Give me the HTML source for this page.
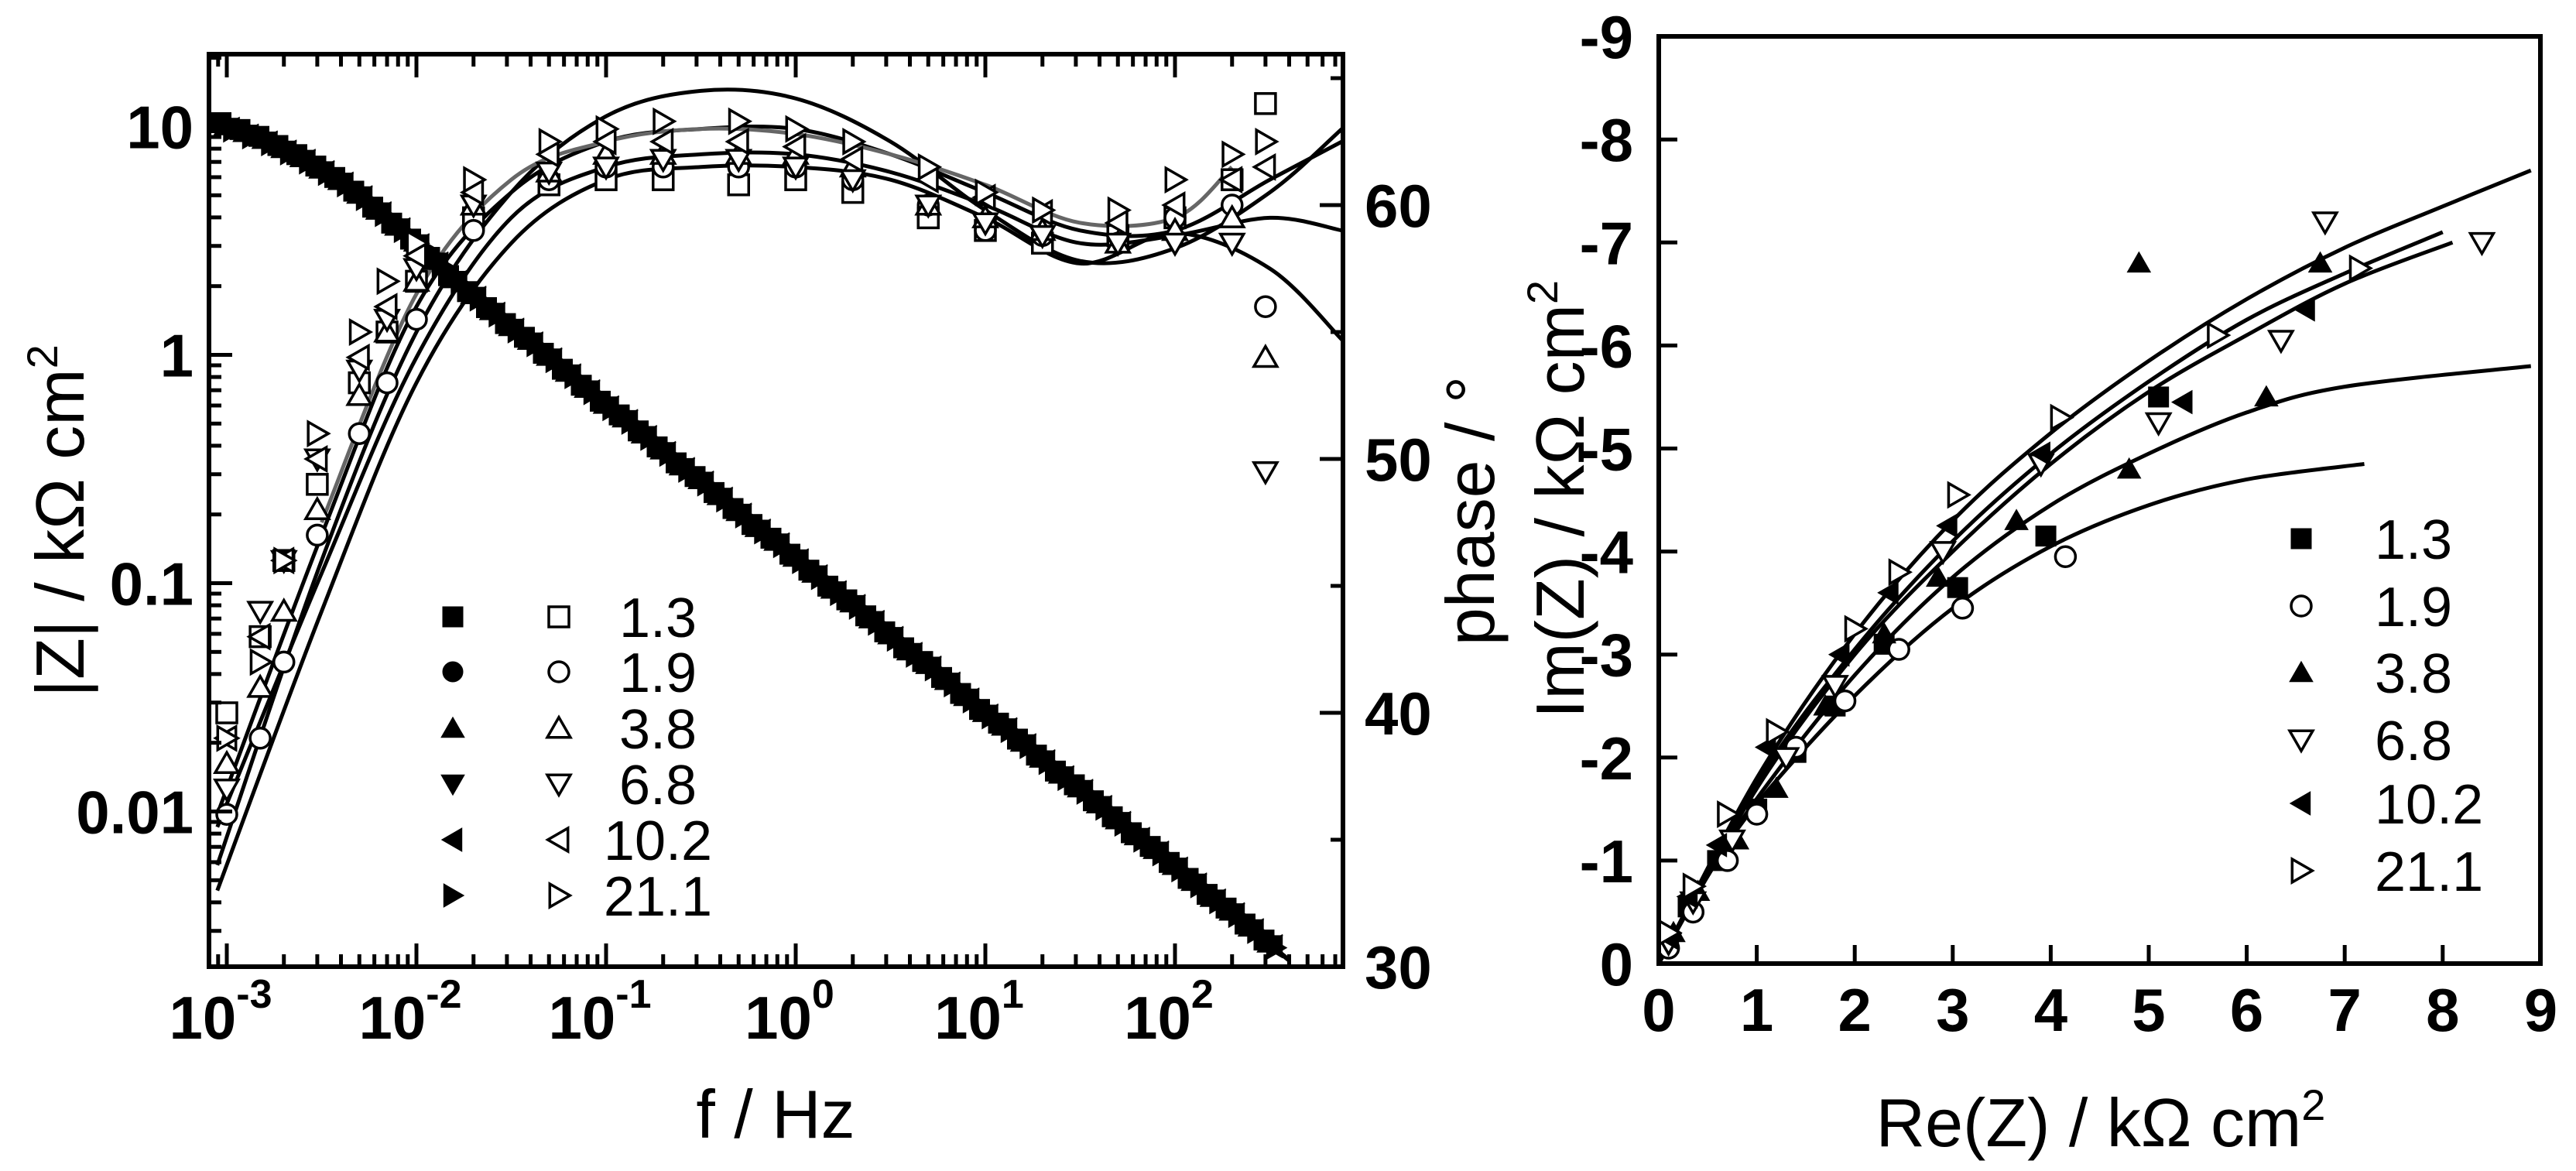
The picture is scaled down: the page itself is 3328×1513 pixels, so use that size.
<!DOCTYPE html>
<html><head><meta charset="utf-8">
<style>
html,body{margin:0;padding:0;background:#fff;}
svg{display:block;}
text{font-family:"Liberation Sans",Arial,sans-serif;fill:#000;}
.tk{font-weight:bold;font-size:78px;}
.ti{font-size:88px;}
.lg{font-size:72px;}
</style></head>
<body>
<svg id="chart" width="3328" height="1513" viewBox="0 0 3328 1513" xmlns="http://www.w3.org/2000/svg">
<g id="left"></g>
<g id="right"></g>
</svg>
<script>
// ---------- data ----------
const seriesLabels = ["1.3","1.9","3.8","6.8","10.2","21.1"];
const seriesShapes = ["square","circle","up","down","left","right"];
// Bode |Z| (log10 kOhm cm2) at log10 f from -3 to 2.5 step 0.1
const zLogF = [-3,-2.9,-2.8,-2.7,-2.6,-2.5,-2.4,-2.3,-2.2,-2.1,-2,-1.9,-1.8,-1.7,-1.6,-1.5,-1.4,-1.3,-1.2,-1.1,-1,-0.9,-0.8,-0.7,-0.6,-0.5,-0.4,-0.3,-0.2,-0.1,0,0.1,0.2,0.3,0.4,0.5,0.6,0.7,0.8,0.9,1,1.1,1.2,1.3,1.4,1.5,1.6,1.7,1.8,1.9,2,2.1,2.2,2.3,2.4,2.5];
const zLogMag = [1.0,0.97,0.94,0.90,0.86,0.81,0.76,0.70,0.63,0.56,0.49,0.41,0.33,0.26,0.19,0.12,0.06,-0.01,-0.08,-0.15,-0.22,-0.28,-0.35,-0.42,-0.49,-0.55,-0.62,-0.69,-0.76,-0.82,-0.89,-0.96,-1.03,-1.09,-1.16,-1.23,-1.30,-1.36,-1.43,-1.50,-1.57,-1.63,-1.70,-1.77,-1.84,-1.90,-1.97,-2.04,-2.11,-2.17,-2.24,-2.31,-2.38,-2.44,-2.51,-2.58];
const zFitLogF = [-3.1,-3,-2.8,-2.6,-2.4,-2.2,-2,-1.8,2.6];
const zFitLogMag = [1.06,1.0,0.94,0.86,0.76,0.63,0.49,0.33,-2.65];
// Bode phase (deg)
const phFreq = [0.001,0.0015,0.002,0.003,0.005,0.007,0.01,0.02,0.05,0.1,0.2,0.5,1,2,5,10,20,50,100,200,300];
const ph13 = [40,43,46,49,53,55,57,59.5,60.8,61,61,60.8,61,60.5,59.5,59,58.5,58.8,59.5,61,64];
const ph19 = [36,39,42,47,51,53,55.5,59,61,61.5,61.5,61.5,61.5,61,60,59,58.8,58.5,59.5,60,56];
const ph38 = [38,41,44,48,52.5,55,57,60,61.3,62,62,62,62,61.5,60,59.5,59,58.5,59,59.5,54];
const ph68 = [37,44,46,50,53.5,55.5,57.5,60,61.3,61.5,61.8,61.8,61.5,61,60,59.3,58.8,58.5,58.5,58.5,49.5];
const ph102 = [39,43,46,50,54,56,58,60.5,62,62.5,62.5,62.5,62.3,61.8,61,60.3,59.7,59.3,60,61,61.5];
const ph211 = [39,42,46,51,55,57,58.5,61,62.5,63,63.3,63.3,63,62.5,61.5,60.5,59.8,59.8,61,62,62.5];
const phFitLogF = [-3.05,-2.5,-2,-1.5,-1,-0.5,0,0.5,1,1.5,2,2.5,2.88];
const phFit1 = [34,46,55,60.5,63.5,64.5,64.2,62.5,59.8,57.8,58.3,60.5,63.0];
const phFit2 = [36,47,56,60.5,62.5,63,63,62,60.5,59,59,61,62.5];
const phFit4 = [35.5,45.5,54,59.5,61.5,62,62,61.3,60,58.5,58.8,59.5,59];
const phFit5 = [33,44,53,58.5,61,61.5,61.5,61,59.5,57.7,58.9,57.5,54.7];
const phFitGrayLogF = [-2.5,-2,-1.5,-1,-0.5,0,0.5,1,1.5,2,2.3];
const phFitGray = [47.5,56.5,61,62.5,63,62.8,62,60.8,59.3,59.5,61.5];
// Nyquist (Re, -Im) kOhm cm2
const nyRe13 = [0.1,0.3,0.6,1.0,1.4,1.8,2.3,3.05,3.95,5.1];
const nyIm13 = [0.2,0.55,1.0,1.5,2.05,2.5,3.1,3.65,4.15,5.5];
const nyRe19 = [0.1,0.35,0.7,1.0,1.4,1.9,2.45,3.1,4.15];
const nyIm19 = [0.15,0.5,1.0,1.45,2.1,2.55,3.05,3.45,3.95];
const nyRe38 = [0.15,0.4,0.8,1.2,1.7,2.3,2.85,3.65,4.8,6.2,4.9,6.75];
const nyIm38 = [0.3,0.7,1.2,1.7,2.5,3.2,3.75,4.3,4.8,5.5,6.8,6.8];
const nyRe68 = [0.1,0.35,0.75,1.3,1.8,2.9,3.9,5.1,6.35,6.8,8.4];
const nyIm68 = [0.2,0.6,1.2,2.0,2.7,4.0,4.85,5.25,6.05,7.2,7.0];
const nyRe102 = [0.1,0.3,0.6,1.1,1.85,2.35,2.95,3.9,5.35,6.6];
const nyIm102 = [0.25,0.65,1.15,2.1,3.0,3.6,4.25,4.95,5.45,6.35];
const nyRe211 = [0.1,0.35,0.7,1.2,2.0,2.45,3.05,4.1,5.7,7.15];
const nyIm211 = [0.3,0.75,1.45,2.25,3.25,3.8,4.55,5.3,6.1,6.75];
const fitRe1 = [0,0.5,1,2,3,4,5,6,7.2];
const fitIm1 = [0,0.85,1.55,2.6,3.45,4.05,4.45,4.7,4.85];
const fitRe2 = [0,0.5,1,2,3,4,5,6,7,8.9];
const fitIm2 = [0,0.85,1.6,2.8,3.75,4.45,4.95,5.35,5.6,5.8];
const fitRe3 = [0,1,2,3,4,5,6,7,8.1];
const fitIm3 = [0,1.7,3.0,4.0,4.85,5.55,6.1,6.6,7.0];
const fitRe4 = [0,1,2,3,4,5,6,7,8];
const fitIm4 = [0,1.75,3.05,4.1,4.95,5.65,6.25,6.7,7.1];
const fitRe5 = [0,1,2,3,4,5,6,7,8,8.9];
const fitIm5 = [0,1.8,3.2,4.3,5.15,5.85,6.45,6.95,7.35,7.7];
const bodeXTicks = [-3,-2,-1,0,1,2];
const bodeYTicks = [1,0,-1,-2];
const bodeYLabels = ["10","1","0.1","0.01"];
const phaseTicks = [30,40,50,60];
const nyTicks = [0,1,2,3,4,5,6,7,8,9];

// ---------- geometry ----------
const NS="http://www.w3.org/2000/svg";
const L={x0:270,x1:1735,y0:70,y1:1249};
const R={x0:2143,x1:3282,y0:47,y1:1245};
const fx=lf=>293+(lf+3)*245;
const fyZ=lm=>458.5-lm*295;
const fyP=p=>1249-(p-30)*32.8;
const rx=v=>R.x0+v*126.6;
const ry=v=>R.y1-v*133.1;
function el(tag,attrs,parent){const e=document.createElementNS(NS,tag);for(const k in attrs)e.setAttribute(k,attrs[k]);parent.appendChild(e);return e;}
const gL=document.getElementById('left'), gR=document.getElementById('right');
const defs=el('defs',{},document.getElementById('chart'));
const cpL=el('clipPath',{id:'clipL'},defs); el('rect',{x:L.x0,y:L.y0,width:L.x1-L.x0,height:L.y1-L.y0},cpL);
const cpR=el('clipPath',{id:'clipR'},defs); el('rect',{x:R.x0,y:R.y0,width:R.x1-R.x0,height:R.y1-R.y0},cpR);

function marker(parent,shape,cx,cy,filled,s){
  s=s||13; let e;
  const st=filled?{fill:'#000',stroke:'#000','stroke-width':1}:{fill:'#fff',stroke:'#000','stroke-width':3.5};
  if(shape==='square'){e=el('rect',{x:cx-s,y:cy-s,width:2*s,height:2*s},parent);}
  else if(shape==='circle'){e=el('circle',{cx:cx,cy:cy,r:s},parent);}
  else{let p;
    if(shape==='up')p=[[cx,cy-s*1.1],[cx+s*1.15,cy+s*0.9],[cx-s*1.15,cy+s*0.9]];
    if(shape==='down')p=[[cx,cy+s*1.1],[cx+s*1.15,cy-s*0.9],[cx-s*1.15,cy-s*0.9]];
    if(shape==='left')p=[[cx-s*1.1,cy],[cx+s*0.9,cy-s*1.15],[cx+s*0.9,cy+s*1.15]];
    if(shape==='right')p=[[cx+s*1.1,cy],[cx-s*0.9,cy-s*1.15],[cx-s*0.9,cy+s*1.15]];
    e=el('polygon',{points:p.map(q=>q.join(',')).join(' ')},parent);}
  for(const k in st)e.setAttribute(k,st[k]);
  return e;
}
function smoothPath(pts){
  let d='M'+pts[0][0]+','+pts[0][1];
  for(let i=0;i<pts.length-1;i++){
    const p0=pts[Math.max(i-1,0)],p1=pts[i],p2=pts[i+1],p3=pts[Math.min(i+2,pts.length-1)];
    const c1=[p1[0]+(p2[0]-p0[0])/6,p1[1]+(p2[1]-p0[1])/6];
    const c2=[p2[0]-(p3[0]-p1[0])/6,p2[1]-(p3[1]-p1[1])/6];
    d+=' C'+c1.join(',')+' '+c2.join(',')+' '+p2.join(',');
  }
  return d;
}
function txt(parent,x,y,s,cls,anchor,name){const t=el('text',{x:x,y:y,'class':cls,'text-anchor':anchor||'middle'},parent);t.textContent=s;
  
  return t;}

// ---------- left (Bode) ----------
const dataL=el('g',{'clip-path':'url(#clipL)'},gL);


[[phFitLogF,phFit1,'#000'],[phFitLogF,phFit2,'#000'],[phFitLogF,phFit4,'#000'],[phFitLogF,phFit5,'#000'],[phFitGrayLogF,phFitGray,'#666']].forEach((f,i)=>{
  const p=el('path',{d:smoothPath(f[0].map((lf,j)=>[fx(lf),fyP(f[1][j])])),fill:'none',stroke:f[2],'stroke-width':5},dataL);
  
  
});
const zf=el('path',{d:smoothPath(zFitLogF.map((lf,j)=>[fx(lf),fyZ(zFitLogMag[j])])),fill:'none',stroke:'#000','stroke-width':6},dataL);


seriesShapes.forEach((sh,si)=>{
  zLogF.forEach((lf,j)=>{
    const m=marker(dataL,sh,fx(lf)+(si-2.5)*3,fyZ(zLogMag[j])+(si-2.5)*2,true,13);
    
    
  });
});
[ph13,ph19,ph38,ph68,ph102,ph211].forEach((arr,si)=>{
  arr.forEach((p,j)=>{
    const m=marker(dataL,seriesShapes[si],fx(Math.log10(phFreq[j])),fyP(p),false,13);
    
    
  });
});
const fL=el('rect',{x:L.x0,y:L.y0,width:L.x1-L.x0,height:L.y1-L.y0,fill:'none',stroke:'#000','stroke-width':6},gL);


for(let d=-4;d<=2;d++){for(let k=1;k<10;k++){const x=fx(d+Math.log10(k));if(x<L.x0+3||x>L.x1-3)continue;
  const len=k===1?30:16; el('line',{x1:x,y1:L.y1,x2:x,y2:L.y1-len,stroke:'#000','stroke-width':5},gL);
  el('line',{x1:x,y1:L.y0,x2:x,y2:L.y0+len,stroke:'#000','stroke-width':5},gL);}}
bodeXTicks.forEach(d=>{const t=txt(gL,fx(d)-8,1342,'10','tk','middle','x-tick-label');
  const s=el('tspan',{dy:-40,'font-size':'52'},t); s.textContent=String(d);});
for(let d=-3;d<=1;d++){for(let k=1;k<10;k++){const y=fyZ(d+Math.log10(k));if(y<L.y0+3||y>L.y1-3)continue;
  const len=k===1?30:16; el('line',{x1:L.x0,y1:y,x2:L.x0+len,y2:y,stroke:'#000','stroke-width':5},gL);}}
bodeYTicks.forEach((d,i)=>txt(gL,250,fyZ(d)+28,bodeYLabels[i],'tk','end','y-tick-label'));
for(let p=30;p<=65;p+=5){const y=fyP(p);if(y<L.y0+3)continue;const len=p%10===0?30:16;
  el('line',{x1:L.x1,y1:y,x2:L.x1-len,y2:y,stroke:'#000','stroke-width':5},gL);}
phaseTicks.forEach(p=>txt(gL,1763,fyP(p)+28,String(p),'tk','start','phase-tick-label'));
txt(gL,1002,1470,'f / Hz','ti','middle','x-axis-title');
const yt=el('text',{x:0,y:0,'class':'ti','text-anchor':'middle',transform:'translate(108,673) rotate(-90)'},gL);


yt.textContent='|Z| / kΩ cm'; const ys=el('tspan',{dy:-34,'font-size':'56'},yt); ys.textContent='2';
const pt=el('text',{x:0,y:0,'class':'ti','text-anchor':'middle',transform:'translate(1930,660) rotate(-90)'},gL);


pt.textContent='phase / °';
const legL=el('g',{},gL);


const legRowsL=[797,868,941,1013,1085,1157];
seriesLabels.forEach((lab,i)=>{
  marker(legL,seriesShapes[i],585,legRowsL[i],true,13);
  marker(legL,seriesShapes[i],722,legRowsL[i],false,13);
  txt(legL,850,legRowsL[i]+26,lab,'lg','middle','legend-entry');
});

// ---------- right (Nyquist) ----------
const dataR=el('g',{'clip-path':'url(#clipR)'},gR);


[[fitRe1,fitIm1],[fitRe2,fitIm2],[fitRe3,fitIm3],[fitRe4,fitIm4],[fitRe5,fitIm5]].forEach(f=>{
  const p=el('path',{d:smoothPath(f[0].map((v,j)=>[rx(v),ry(f[1][j])])),fill:'none',stroke:'#000','stroke-width':5},dataR);
  
  
});
const nyFilled=[true,false,true,false,true,false];
[[nyRe13,nyIm13],[nyRe19,nyIm19],[nyRe38,nyIm38],[nyRe68,nyIm68],[nyRe102,nyIm102],[nyRe211,nyIm211]].forEach((s,si)=>{
  s[0].forEach((v,j)=>{const m=marker(dataR,seriesShapes[si],rx(v),ry(s[1][j]),nyFilled[si],13);
    
    });
});
const fR=el('rect',{x:R.x0,y:R.y0,width:R.x1-R.x0,height:R.y1-R.y0,fill:'none',stroke:'#000','stroke-width':6},gR);


nyTicks.forEach(v=>{
  if(v>0&&v<9){el('line',{x1:rx(v),y1:R.y1,x2:rx(v),y2:R.y1-24,stroke:'#000','stroke-width':5},gR);
    el('line',{x1:R.x0,y1:ry(v),x2:R.x0+24,y2:ry(v),stroke:'#000','stroke-width':5},gR);}
  txt(gR,rx(v),1332,String(v),'tk','middle','x-tick-label');
  txt(gR,2110,ry(v)+28,v===0?'0':'-'+v,'tk','end','y-tick-label');
});
const rxt=txt(gR,2714,1481,'Re(Z) / kΩ cm','ti','middle','x-axis-title');
const rxs=el('tspan',{dy:-34,'font-size':'56'},rxt); rxs.textContent='2';
const ryt=el('text',{x:0,y:0,'class':'ti','text-anchor':'middle',transform:'translate(2046,645) rotate(-90)'},gR);


ryt.textContent='Im(Z) / kΩ cm'; const rys=el('tspan',{dy:-34,'font-size':'56'},ryt); rys.textContent='2';
const legR=el('g',{},gR);


const legRowsR=[696,783,869,956,1038,1125];
seriesLabels.forEach((lab,i)=>{
  marker(legR,seriesShapes[i],2973,legRowsR[i],nyFilled[i],13);
  txt(legR,3068,legRowsR[i]+26,lab,'lg','start','legend-entry');
});
</script>
</body></html>
